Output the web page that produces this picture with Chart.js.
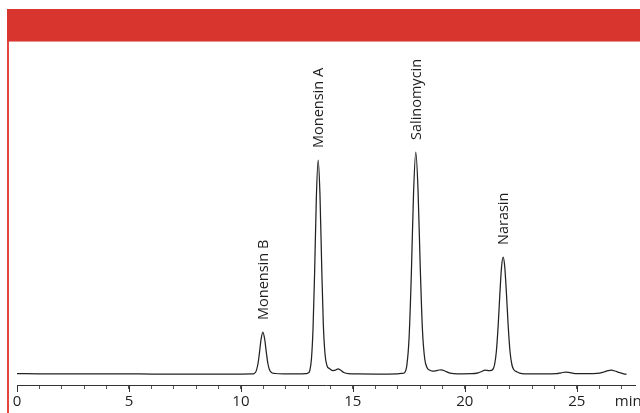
<!DOCTYPE html>
<html>
<head>
<meta charset="utf-8">
<script src="https://cdn.jsdelivr.net/npm/chart.js@4.4.1/dist/chart.umd.min.js"></script>
<style>
  html, body { margin: 0; padding: 0; background: #fff; overflow: hidden; width: 640px; height: 413px; }
  #band { position: absolute; left: 7px; top: 9px; width: 633px; height: 32px; background: #d9352f; }
  #rule { position: absolute; left: 7px; top: 41px; width: 633px; height: 1px; background: #ec8f8b; }
  #edge { position: absolute; left: 7px; top: 41px; width: 2px; height: 372px; background: #e2463f; }
  #wrap { position: absolute; left: 0; top: 0; width: 700px; height: 413px; }
</style>
</head>
<body>
<div id="band"></div>
<div id="rule"></div>
<div id="edge"></div>
<div id="wrap"><canvas id="c" width="700" height="413"></canvas></div>
<script>
// Retention time (min) and detector response (arbitrary units above baseline)
const timeMin = [
  0, 1, 2, 3, 4, 5, 6, 7, 8, 9, 10, 10.5,
  10.60, 10.68, 10.76, 10.83, 10.90, 10.98, 11.06, 11.13, 11.20, 11.28, 11.38, 11.53,
  12.0, 12.5, 12.9,
  13.00, 13.08, 13.15, 13.22, 13.29, 13.37, 13.45, 13.53, 13.61, 13.68, 13.76, 13.85,
  13.95, 14.10, 14.22, 14.34, 14.45, 14.60, 14.80, 15.2, 16.0, 17.0, 17.2,
  17.31, 17.41, 17.51, 17.61, 17.71, 17.81, 17.91, 18.01, 18.11, 18.21, 18.31,
  18.42, 18.55, 18.70, 18.85, 18.96, 19.10, 19.30, 19.50, 19.90, 20.30,
  20.60, 20.75, 20.90, 21.00, 21.12,
  21.25, 21.33, 21.41, 21.49, 21.56, 21.64, 21.71, 21.78, 21.86, 21.94, 22.02, 22.11,
  22.20, 22.32, 22.45, 22.70, 23.5,
  24.1, 24.3, 24.5, 24.7, 25.0, 25.5, 25.9, 26.2, 26.4, 26.55, 26.7, 26.9, 27.1, 27.22
];
const signal = [
  0.3, 0.2, 0.2, 0.1, 0.1, 0.1, 0, 0, 0, 0, 0, 0.1,
  0.6, 2.9, 10, 21.6, 34.7, 42, 35, 22.5, 11, 4, 1.3, 0.5,
  0.2, 0.1, 0.4,
  1, 3.7, 15, 44.7, 100, 177, 214, 180, 106, 50, 19, 8,
  5.5, 3.5, 3.8, 5.2, 4, 1.5, 0.4, 0.1, 0, 0.2, 0.6,
  1.4, 8.7, 36, 99, 181, 222, 184, 106, 43, 15, 6.5,
  4, 3, 3.2, 4, 4.2, 3, 1.2, 0.4, 0.2, 0.3,
  1.2, 2.5, 3.8, 3.6, 3.3,
  4.5, 9.5, 23, 48.6, 78, 107, 117, 108, 80, 47, 22, 8.5,
  4, 2.3, 0.8, 0.2, 0.1,
  0.3, 1.2, 2, 1.4, 0.4, 0.3, 0.6, 2, 3.4, 3.8, 3, 1.5, 0.2, -0.3
];

// Peak identities and their apex retention times
const peakNames = ['Monensin B', 'Monensin A', 'Salinomycin', 'Narasin'];
const peakTimes = [10.98, 13.45, 17.81, 21.71];

// Axis labelling
const majorTicks = [0, 5, 10, 15, 20, 25];
const tickLabels = ['0', '5', '10', '15', '20', '25'];
const unitLabel = 'min';
const unitPos = 27.3;
const xMax = 27.6;

const tickFont = { family: 'Open Sans', size: 15 };
const ink = '#1e1e1e';

const decor = {
  id: 'chromDecor',
  afterDraw(chart) {
    const { ctx } = chart;
    const xs = chart.scales.x, ys = chart.scales.y;
    ctx.save();
    // longer marks at the labelled minutes
    ctx.strokeStyle = '#333';
    ctx.lineWidth = 1;
    const y0 = xs.top;
    majorTicks.forEach(v => {
      const px = Math.round(xs.getPixelForValue(v)) + 0.5;
      ctx.beginPath();
      ctx.moveTo(px, y0);
      ctx.lineTo(px, y0 + 7);
      ctx.stroke();
    });
    // compound names above each peak apex
    ctx.font = '14.5px "Open Sans"';
    ctx.fillStyle = ink;
    ctx.textAlign = 'left';
    ctx.textBaseline = 'alphabetic';
    peakNames.forEach((name, i) => {
      const t = peakTimes[i];
      const h = signal[timeMin.indexOf(t)];
      const px = xs.getPixelForValue(t);
      const py = ys.getPixelForValue(h);
      ctx.save();
      ctx.translate(px + 5, py - 12);
      ctx.rotate(-Math.PI / 2);
      ctx.fillText(name, 0, 0);
      ctx.restore();
    });
    ctx.restore();
  }
};

new Chart(document.getElementById('c'), {
  type: 'line',
  data: {
    datasets: [{
      data: timeMin.map((t, i) => ({ x: t, y: signal[i] })),
      borderColor: '#222',
      borderWidth: 1.25,
      pointRadius: 0,
      fill: false,
      cubicInterpolationMode: 'monotone'
    }]
  },
  options: {
    responsive: false,
    animation: false,
    devicePixelRatio: 1,
    layout: { padding: { top: 42, left: 17, right: 700 - 17 - Math.round(22.4 * xMax), bottom: 0 } },
    plugins: { legend: { display: false }, tooltip: { enabled: false }, title: { display: false } },
    scales: {
      x: {
        type: 'linear',
        position: 'bottom',
        min: 0,
        max: xMax,
        border: { display: true, color: '#333', width: 1 },
        grid: {
          drawOnChartArea: false,
          drawTicks: true,
          tickLength: 4,
          lineWidth: 1,
          color: c => (c.tick && c.tick.value === unitPos) ? 'rgba(0,0,0,0)' : '#555'
        },
        afterBuildTicks: s => {
          const t = [];
          for (let v = 0; v <= Math.floor(xMax); v++) t.push({ value: v });
          t.push({ value: unitPos });
          s.ticks = t;
        },
        afterFit: s => { s.height = 28; },
        ticks: {
          autoSkip: false,
          maxRotation: 0,
          minRotation: 0,
          padding: 4,
          font: tickFont,
          color: ink,
          callback: v => {
            if (v === unitPos) return unitLabel;
            const k = majorTicks.indexOf(v);
            return k >= 0 ? tickLabels[k] : '';
          }
        }
      },
      y: {
        display: false,
        min: -11,
        max: 332
      }
    }
  },
  plugins: [decor]
});
</script>
</body>
</html>
